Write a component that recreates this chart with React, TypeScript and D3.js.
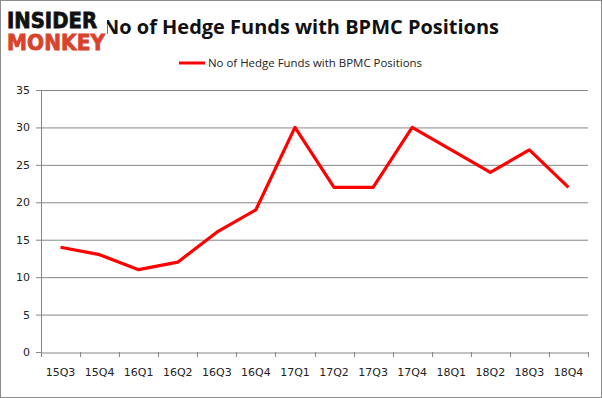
import { useEffect, useRef } from 'react'
import * as d3 from 'd3'

const W = 602
const H = 398
const MARGIN = { top: 90, right: 14, bottom: 46, left: 41 }
const QUARTERS = ['15Q3', '15Q4', '16Q1', '16Q2', '16Q3', '16Q4', '17Q1', '17Q2', '17Q3', '17Q4', '18Q1', '18Q2', '18Q3', '18Q4']
const FUNDS = [14, 13, 11, 12, 16, 19, 30, 22, 22, 30, 27, 24, 27, 22]
const Y_TICKS = [0, 5, 10, 15, 20, 25, 30, 35]
const TITLE = 'No of Hedge Funds with BPMC Positions'
const LINE_COLOR = '#ff0000'
const GRID = '#868686'
const TEXT = '#222'
const FONT = "'DejaVu Sans', Verdana, sans-serif"
const NARROW = "'Open Sans', 'Liberation Sans', sans-serif"

export default function App() {
  const svgRef = useRef<SVGSVGElement>(null)

  useEffect(() => {
    const svg = d3.select(svgRef.current)
    svg.selectAll('*').remove()

    const w = W - MARGIN.left - MARGIN.right
    const h = H - MARGIN.top - MARGIN.bottom

    svg.append('rect')
      .attr('x', 0.5).attr('y', 0.5)
      .attr('width', W - 1).attr('height', H - 1)
      .attr('fill', '#fff').attr('stroke', '#8c8c8c')

    const x = d3.scaleBand().domain(QUARTERS).range([0, w])
    const y = d3.scaleLinear().domain([0, 35]).range([h, 0])

    const g = svg.append('g').attr('transform', `translate(${MARGIN.left},${MARGIN.top})`)

    // gridlines + y axis
    const yAxis = d3.axisLeft(y).tickValues(Y_TICKS).tickSize(5).tickPadding(6)
    g.append('g')
      .call(yAxis)
      .call((s) => s.select('.domain').attr('stroke', GRID))
      .call((s) => s.selectAll('.tick line').attr('stroke', GRID))
      .call((s) => s.selectAll('.tick text').attr('fill', TEXT).attr('font-size', 11).attr('font-family', FONT))

    g.append('g')
      .selectAll('line')
      .data(Y_TICKS.filter((d) => d > 0))
      .join('line')
      .attr('x1', 0).attr('x2', w)
      .attr('y1', (d) => y(d) + 0.5).attr('y2', (d) => y(d) + 0.5)
      .attr('stroke', GRID)

    // x axis, ticks at category boundaries
    const xAxis = d3.axisBottom(x).tickSize(0).tickPadding(16)
    g.append('g')
      .attr('transform', `translate(0,${h + 0.5})`)
      .call(xAxis)
      .call((s) => s.select('.domain').attr('stroke', GRID))
      .call((s) => s.selectAll('.tick text').attr('fill', TEXT).attr('font-size', 11).attr('font-family', FONT))

    g.append('g')
      .selectAll('line')
      .data(d3.range(QUARTERS.length + 1))
      .join('line')
      .attr('x1', (i) => Math.round(i * x.step()) + 0.5)
      .attr('x2', (i) => Math.round(i * x.step()) + 0.5)
      .attr('y1', h).attr('y2', h + 5)
      .attr('stroke', GRID)

    const line = d3.line<number>()
      .x((_, i) => x(QUARTERS[i])! + x.bandwidth() / 2)
      .y((d) => y(d))

    g.append('path')
      .datum(FUNDS)
      .attr('d', line)
      .attr('fill', 'none')
      .attr('stroke', LINE_COLOR)
      .attr('stroke-width', 3.2)
      .attr('stroke-linejoin', 'round')

    // title
    svg.append('text')
      .attr('x', 103).attr('y', 34)
      .attr('font-family', NARROW)
      .attr('font-weight', 'bold')
      .attr('font-size', 20)
      .attr('textLength', 396).attr('lengthAdjust', 'spacingAndGlyphs')
      .attr('fill', '#111')
      .text(TITLE)

    // legend
    svg.append('line')
      .attr('x1', 179).attr('x2', 205)
      .attr('y1', 63).attr('y2', 63)
      .attr('stroke', LINE_COLOR).attr('stroke-width', 3)
    svg.append('text')
      .attr('x', 208).attr('y', 67)
      .attr('font-family', NARROW)
      .attr('font-size', 11)
      .attr('textLength', 214).attr('lengthAdjust', 'spacingAndGlyphs')
      .attr('fill', TEXT)
      .text(TITLE)

    // logo
    svg.append('rect').attr('x', 5).attr('y', 6).attr('width', 102).attr('height', 46).attr('fill', '#fff')
    svg.append('text')
      .attr('x', 7).attr('y', 28)
      .attr('font-family', FONT).attr('font-weight', 900).attr('font-size', 21)
      .attr('stroke', '#111').attr('stroke-width', 0.8)
      .attr('textLength', 90).attr('lengthAdjust', 'spacingAndGlyphs')
      .attr('fill', '#111')
      .text('INSIDER')
    svg.append('text')
      .attr('x', 7).attr('y', 50)
      .attr('font-family', FONT).attr('font-weight', 900).attr('font-size', 21)
      .attr('stroke', '#d8432c').attr('stroke-width', 0.8)
      .attr('textLength', 98).attr('lengthAdjust', 'spacingAndGlyphs')
      .attr('fill', '#d8432c')
      .text('MONKEY')
  }, [])

  return (
    <svg
      ref={svgRef}
      width={W}
      height={H}
      style={{ position: 'absolute', left: 0, top: 0 }}
    />
  )
}
